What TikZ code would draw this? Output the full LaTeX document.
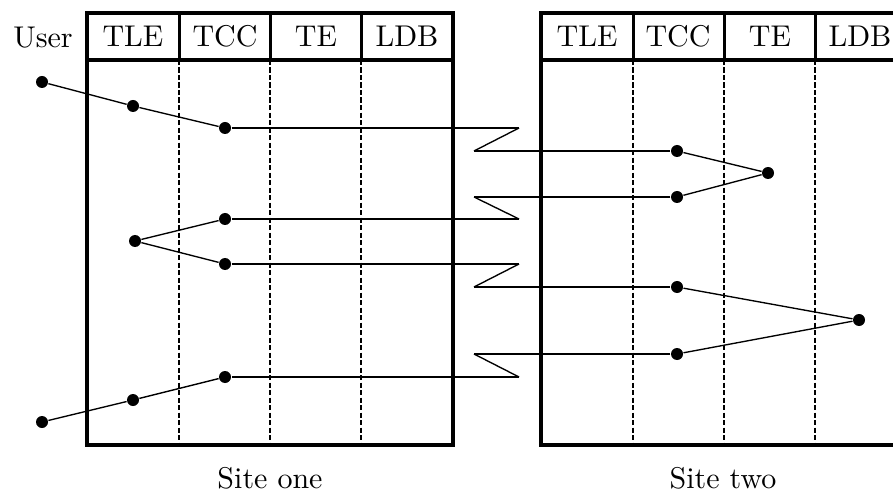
\documentclass[tikz,border=0pt]{standalone}
\usetikzlibrary{arrows.meta}

\begin{document}
\begin{tikzpicture}[x=0.3333pt, y=-0.3333pt,
  frame/.style={line width=1.3pt},
  sep/.style={line width=0.55pt, dash pattern=on 1.7pt off 0.8pt},
  dot/.style={circle, fill, inner sep=0pt, minimum size=4pt},
  msg/.style={line width=0.7pt},
  hop/.style={line width=0.45pt},
  head/.style={anchor=base}]

\clip (0,0) rectangle (893,493);

% Define the two sites
\draw[frame] (87,13) rectangle (453,445);
\draw[frame] (87,60) -- (453,60);
\draw[frame] (541,13) rectangle (906,445);
\draw[frame] (541,60) -- (906,60);

% Column separators
\draw[line width=1pt] (179,13) -- (179,60) (270,13) -- (270,60) (361,13) -- (361,60);
\draw[line width=1pt] (633,13) -- (633,60) (724,13) -- (724,60) (815,13) -- (815,60);
\draw[sep] (179,60) -- (179,445) (270,60) -- (270,445) (361,60) -- (361,445);
\draw[sep] (633,60) -- (633,445) (724,60) -- (724,445) (815,60) -- (815,445);

% Define the headings
\node[head] (user) at (43,48) {User};
\node[head] (TLE1) at (133,47) {TLE};
\node[head] (TCC1) at (225,47) {TCC};
\node[head] (TE1) at (316,47) {TE};
\node[head] (LDB1) at (407,47) {LDB};
\node[head] (TLE2) at (587,47) {TLE};
\node[head] (TCC2) at (678,47) {TCC};
\node[head] (TE2) at (770,47) {TE};
\node[head] (LDB2) at (860,47) {LDB};
\node[head] (one) at (270,488) {Site one};
\node[head] (two) at (723,488) {Site two};

% Define the nodes with coordinates
\node[dot] (U1) at (42,82) {};
\node[dot] (A1) at (133,106) {};
\node[dot] (B1) at (225,128) {};
\node[dot] (C1) at (677,151) {};
\node[dot] (D1) at (768,173) {};
\node[dot] (C2) at (677,197) {};
\node[dot] (B2) at (225,219) {};
\node[dot] (A2) at (135,241) {};
\node[dot] (B3) at (225,264) {};
\node[dot] (C3) at (677,287) {};
\node[dot] (E1) at (859,320) {};
\node[dot] (C4) at (677,354) {};
\node[dot] (B4) at (225,377) {};
\node[dot] (A3) at (133,400) {};
\node[dot] (U2) at (42,422) {};

% Break points between the sites
\coordinate (Z1) at (519,128);
\coordinate (Z2) at (474,151);
\coordinate (Z3) at (474,197);
\coordinate (Z4) at (519,219);
\coordinate (Z5) at (519,264);
\coordinate (Z6) at (474,287);
\coordinate (Z7) at (474,354);
\coordinate (Z8) at (519,377);

% Draw the local steps
\draw[hop] (U1) -- (A1) -- (B1);
\draw[hop] (C1) -- (D1) -- (C2);
\draw[hop] (B2) -- (A2) -- (B3);
\draw[hop] (C3) -- (E1) -- (C4);
\draw[hop] (B4) -- (A3) -- (U2);

% Draw the messages
\draw[msg] (B1) -- (Z1);
\draw[hop] (Z1) -- (Z2);
\draw[msg] (Z2) -- (C1);
\draw[msg] (C2) -- (Z3);
\draw[hop] (Z3) -- (Z4);
\draw[msg] (Z4) -- (B2);
\draw[msg] (B3) -- (Z5);
\draw[hop] (Z5) -- (Z6);
\draw[msg] (Z6) -- (C3);
\draw[msg] (C4) -- (Z7);
\draw[hop] (Z7) -- (Z8);
\draw[msg] (Z8) -- (B4);

\end{tikzpicture}
\end{document}
